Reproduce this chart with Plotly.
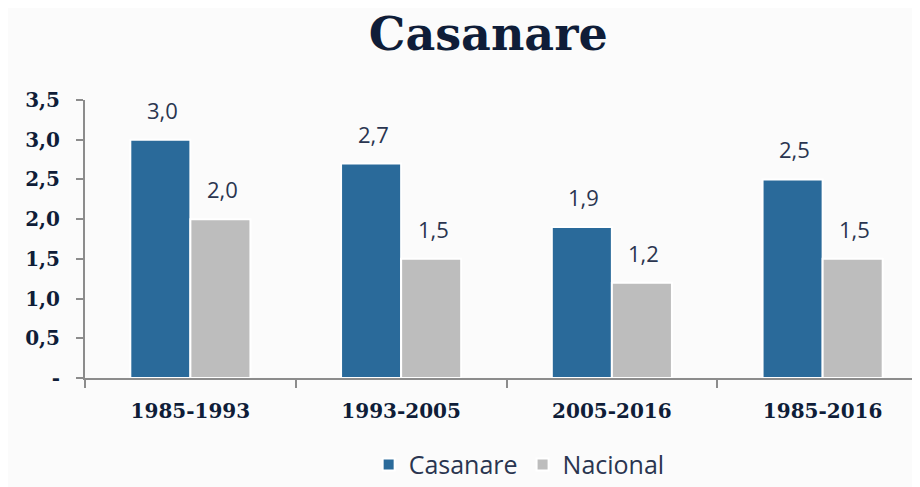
import plotly.graph_objects as go

periodos = ['1985-1993', '1993-2005', '2005-2016', '1985-2016']
casanare = [3.0, 2.7, 1.9, 2.5]
nacional = [2.0, 1.5, 1.2, 1.5]
y_ticks = [0, 0.5, 1.0, 1.5, 2.0, 2.5, 3.0, 3.5]
y_ticktext = ['-', '0,5', '1,0', '1,5', '2,0', '2,5', '3,0', '3,5']

AZUL = '#2a6a9a'
GRIS = '#bdbdbd'
NAVY = '#0f1d38'
ETIQ = '#2a3550'

fig = go.Figure()
fig.add_trace(go.Bar(x=periodos, y=casanare, name='Casanare',
                     marker=dict(color=AZUL, line=dict(color='white', width=2))))
fig.add_trace(go.Bar(x=periodos, y=nacional, name='Nacional',
                     marker=dict(color=GRIS, line=dict(color='white', width=2))))

# etiquetas de valor encima de cada barra
anots = []
for serie, xs in ((casanare, -28), (nacional, 32)):
    for p, v in zip(periodos, serie):
        anots.append(dict(x=p, y=v, text=f'{v:.1f}'.replace('.', ','), showarrow=False,
                          xshift=xs, yshift=30, yanchor='middle',
                          font=dict(family='Open Sans', size=22, color=ETIQ)))

fig.update_layout(
    width=920, height=487,
    margin=dict(l=77, r=0, t=92, b=117, autoexpand=False),
    paper_bgcolor='#fbfbfb', plot_bgcolor='rgba(0,0,0,0)',
    barmode='group', bargap=0.43, bargroupgap=0,
    title=dict(text='<b>Casanare</b>', x=0.522, xanchor='center', y=0.947, yanchor='middle',
               font=dict(family='DejaVu Serif', size=46, color=NAVY)),
    legend=dict(orientation='h', x=0.515, xanchor='center', y=0.062, yanchor='middle',
                yref='container', font=dict(family='Open Sans', size=25, color=ETIQ),
                itemwidth=30, bgcolor='rgba(0,0,0,0)'),
    annotations=anots,
    showlegend=True,
)
fig.update_xaxes(range=[-0.5, 3.5], showline=True, linecolor='#8c8c8c', linewidth=2,
                 ticks='outside', tickson='boundaries', ticklen=8, tickcolor='#8c8c8c', tickwidth=2,
                 ticklabelstandoff=14, automargin=False,
                 tickfont=dict(family='DejaVu Serif', size=20, color=NAVY, weight='bold'),
                 showgrid=False)
fig.update_yaxes(range=[0, 3.5], tickvals=y_ticks, ticktext=y_ticktext, showline=True,
                 linecolor='#8c8c8c', linewidth=2, ticks='outside', ticklen=7,
                 tickcolor='#8c8c8c', tickwidth=2, showgrid=False, zeroline=False,
                 ticklabelstandoff=12, automargin=False,
                 tickfont=dict(family='DejaVu Serif', size=20, color=NAVY, weight='bold'))

fig.write_html('out.html')
